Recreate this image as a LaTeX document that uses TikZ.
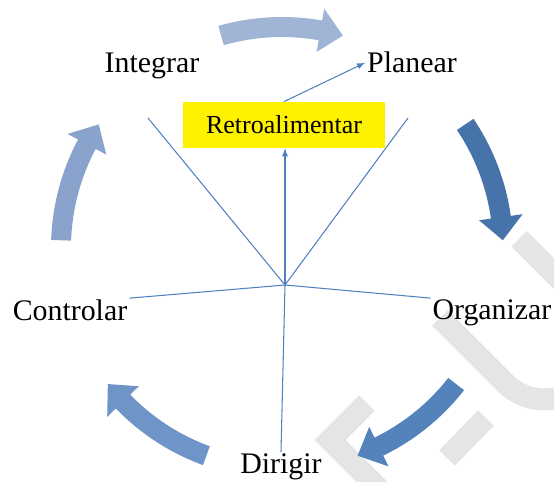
\documentclass[tikz,border=0pt]{standalone}
\usepackage{fontspec}
\setmainfont{Liberation Serif}

\definecolor{linea}{RGB}{79,129,189}
\definecolor{flechaA}{RGB}{160,180,214}
\definecolor{flechaB}{RGB}{70,116,170}
\definecolor{flechaC}{RGB}{84,130,186}
\definecolor{flechaD}{RGB}{110,148,200}
\definecolor{flechaE}{RGB}{138,163,205}

\tikzset{
  etiqueta/.style={font=\fontsize{17}{20}\selectfont, inner sep=1pt, anchor=base},
  radio/.style={draw=linea, line width=0.6pt},
  marca/.style={draw=black!10, line width=0.44cm}
}

\begin{document}
\begin{tikzpicture}[scale=0.02]
  \useasboundingbox (-282,-234) rectangle (272,248);
  \clip (-282,-234) rectangle (272,248);

  % marca de agua
  \draw[marca] (158,-70) -- ++(-45:92) arc[start angle=225, end angle=405, radius=56] -- ++(135:92);
  \draw[marca] (85,-155) -- (48,-192) -- (98,-242);
  \draw[marca] (204,-170) -- (165,-210);

  % flechas del ciclo
  \foreach \c/\col in {90/flechaA, 18/flechaB, -54/flechaC, -126/flechaD, -198/flechaE}{
    \pgfmathsetmacro{\s}{\c+16}
    \pgfmathsetmacro{\e}{\c-16}
    \pgfmathsetmacro{\h}{\c-10}
    \fill[\col] (\s:231) arc[start angle=\s, end angle=\h, radius=231]
      -- (\h:243) -- (\e:221) -- (\h:199) -- (\h:211)
      arc[start angle=\h, end angle=\s, radius=211] -- cycle;
  }

  \node[etiqueta] (integrar) at (-130,175) {Integrar};
  \node[etiqueta] (planear) at (130,175) {Planear};
  \node[etiqueta] (controlar) at (-212,-73) {Controlar};
  \node[etiqueta] (organizar) at (210,-72) {Organizar};
  \node[etiqueta] (dirigir) at (-1,-226) {Dirigir};
  \node[fill=yellow, minimum width=4.04cm, minimum height=0.92cm,
    font=\fontsize{14.8}{17}\selectfont] (retro) at (2,123) {Retroalimentar};

  \coordinate (H) at (3,-37);
  \coordinate (A) at (-134,130);
  \coordinate (B) at (126,130);

  \draw[radio] (H) -- (A);
  \draw[radio] (H) -- (B);
  \draw[radio] (H) -- (controlar.north east);
  \draw[radio] (H) -- (organizar.north west);
  \draw[radio] (H) -- (dirigir.north);
  \draw[radio,-latex] (H) -- (H |- retro.south);
  \draw[radio,-latex] (retro.north) -- (planear.west);
\end{tikzpicture}
\end{document}
